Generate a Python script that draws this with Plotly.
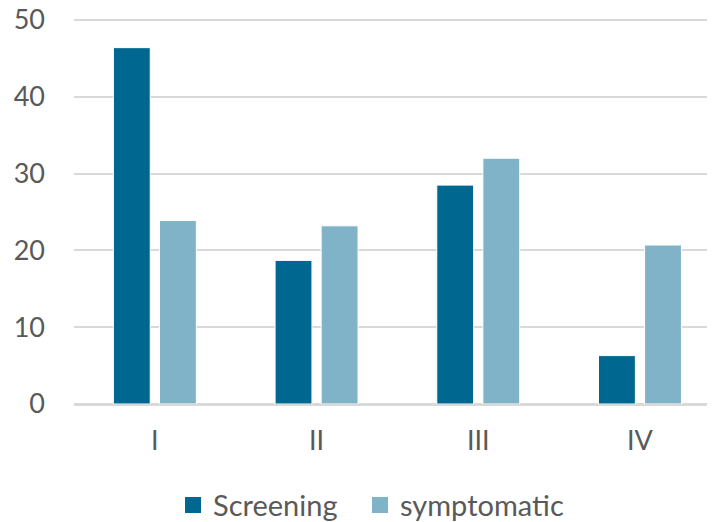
import plotly.graph_objects as go

categories = ["I", "II", "III", "IV"]
screening = [46.4, 18.7, 28.5, 6.3]
symptomatic = [23.9, 23.2, 32.0, 20.7]
y_ticks = [0, 10, 20, 30, 40, 50]
series_names = ["Screening", "symptomatic"]

dark = "#006890"
light = "#80b3c8"
font_family = "Lato, Open Sans, sans-serif"
text_color = "#595959"

fig = go.Figure()
for name, vals, col in zip(series_names, [screening, symptomatic], [dark, light]):
    fig.add_trace(go.Bar(name=name, x=categories, y=vals, showlegend=False,
                         marker=dict(color=col, line=dict(color="#ffffff", width=1))))
# legend entries with larger square symbols, each in its own legend box
for name, col, lg in zip(series_names, [dark, light], ["legend", "legend2"]):
    fig.add_trace(go.Scatter(name=name, x=[None], y=[None], mode="markers", legend=lg,
                             marker=dict(symbol="square", size=17, color=col)))

leg_common = dict(orientation="h", xanchor="left", xref="container",
                  y=0.033, yanchor="middle", yref="container",
                  font=dict(size=29, color=text_color), itemwidth=30,
                  bgcolor="rgba(0,0,0,0)")

fig.update_layout(
    width=707, height=514,
    margin=dict(l=66, r=0, t=10, b=118),
    barmode="group", bargap=0.43, bargroupgap=0.2,
    plot_bgcolor="white", paper_bgcolor="white",
    font=dict(family=font_family, color=text_color, size=27),
    legend=dict(x=0.2334, **leg_common),
    legend2=dict(x=0.4979, **leg_common),
    showlegend=True,
)
fig.update_yaxes(range=[0, 50.26], tickvals=y_ticks, showgrid=True, gridcolor="#d9d9d9",
                 gridwidth=1.5, zeroline=True, zerolinecolor="#d9d9d9", zerolinewidth=1.5,
                 showline=False, ticks="", ticklabelstandoff=28, automargin=False,
                 ticklabeloverflow="allow",
                 tickfont=dict(size=27, color=text_color))
fig.update_xaxes(range=[-0.5, 3.464], showline=True, linecolor="#d9d9d9", linewidth=1.5,
                 ticks="", ticklabelstandoff=12, automargin=False,
                 tickfont=dict(size=27, color=text_color))

fig.write_html("out.html")
